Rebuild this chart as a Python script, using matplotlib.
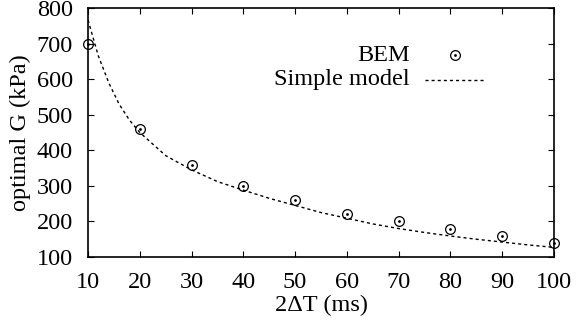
import matplotlib
matplotlib.use("Agg")
import matplotlib.pyplot as plt

plt.rcParams['font.family'] = ['Liberation Serif', 'DejaVu Serif']

bem_x = [10, 20, 30, 40, 50, 60, 70, 80, 90, 100]
bem_y = [700, 460, 360, 300, 260, 220, 200, 180, 160, 140]

model_x = [10, 12, 14, 16, 18, 20, 25, 30, 35, 40, 45, 50, 55, 60, 65, 70, 75, 80, 85, 90, 95, 100]
model_y = [766, 665, 590, 530, 485, 450, 385, 345, 312, 288, 265, 245, 225, 209, 193, 180, 169, 159, 150, 142, 134, 127]

x_ticks = [10, 20, 30, 40, 50, 60, 70, 80, 90, 100]
y_ticks = [100, 200, 300, 400, 500, 600, 700, 800]

FS = 17.5

fig = plt.figure(figsize=(5.76, 3.25), dpi=100)
ax = fig.add_axes([0.1528, 0.2092, 0.809, 0.7662])

ax.plot(model_x, model_y, color='black', linestyle=(0, (2.2, 2.2)), linewidth=1.0, zorder=2)
ax.plot(bem_x, bem_y, linestyle='none', marker='o', markersize=7, markerfacecolor='none',
        markeredgecolor='black', markeredgewidth=0.9, zorder=3, clip_on=False)
ax.plot(bem_x, bem_y, linestyle='none', marker='o', markersize=1.0, color='black', zorder=3, clip_on=False)

ax.set_xlim(10, 100)
ax.set_ylim(100, 800)
ax.set_xticks(x_ticks)
ax.set_yticks(y_ticks)
ax.tick_params(direction='in', top=True, right=True, length=4, width=0.8, labelsize=FS)
ax.tick_params(axis='x', pad=11)
ax.tick_params(axis='y', pad=11)
for s in ax.spines.values():
    s.set_linewidth(1.2)

ax.set_xlabel('2ΔT (ms)', fontsize=FS, labelpad=1)
ax.set_ylabel('optimal G (kPa)', fontsize=FS, labelpad=4)

# legend drawn manually (gnuplot-style)
ax.text(0.691, 0.811, 'BEM', transform=ax.transAxes, ha='right', va='center', fontsize=FS)
ax.plot([0.788], [0.811], transform=ax.transAxes, marker='o', markersize=7, markerfacecolor='none',
        markeredgecolor='black', markeredgewidth=0.9, linestyle='none')
ax.plot([0.788], [0.811], transform=ax.transAxes, marker='o', markersize=1.0, color='black', linestyle='none')
ax.text(0.691, 0.711, 'Simple model', transform=ax.transAxes, ha='right', va='center', fontsize=FS)
ax.plot([0.723, 0.85], [0.711, 0.711], transform=ax.transAxes, color='black',
        linestyle=(0, (2.2, 2.2)), linewidth=1.0)

fig.savefig('out.png', dpi=100)
